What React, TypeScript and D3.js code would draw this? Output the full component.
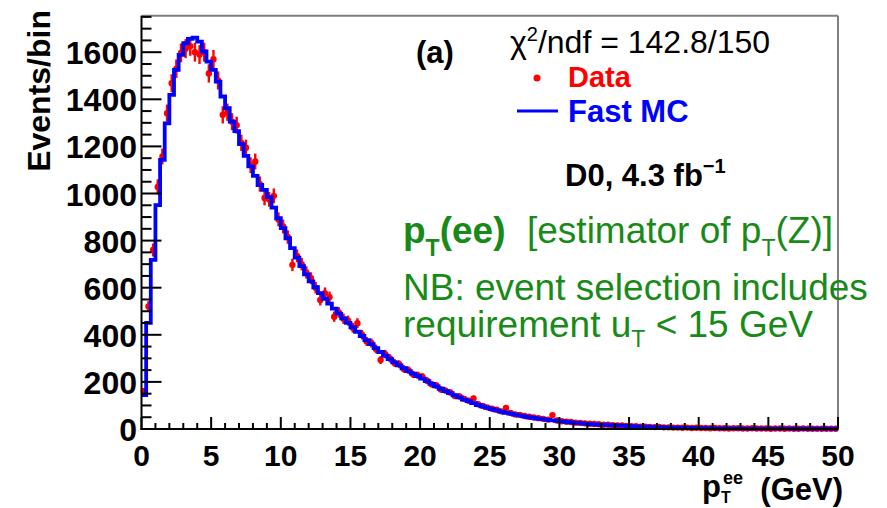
import React from "react";
import * as d3 from "d3";

// Fast MC prediction, 150 bins of 1/3 GeV from 0 to 50 GeV
const mcCounts = [
  144, 451, 718, 951, 1143, 1298, 1419, 1525, 1589, 1638,
  1657, 1662, 1645, 1603, 1560, 1525, 1475, 1412, 1362, 1305,
  1265, 1210, 1160, 1115, 1075, 1036, 1015, 985, 940, 895,
  853, 810, 768, 728, 692, 657, 627, 602, 577, 553,
  532, 511, 490, 470, 451, 432, 413, 395, 377, 360,
  343, 327, 311, 297, 283, 270, 258, 246, 235, 225,
  214, 203, 192, 181, 171, 161, 152, 143, 134, 125,
  118, 110, 102, 96, 90, 84, 79, 74, 69, 65,
  61, 57, 54, 50, 47, 44, 42, 39, 37, 35,
  32, 30, 28, 26, 25, 23, 21, 20, 19, 18,
  17, 16, 15, 14, 13, 12, 11, 10, 10, 9,
  8, 8, 7, 7, 6, 6, 5, 5, 5, 4,
  4, 4, 4, 3, 3, 3, 3, 3, 3, 2,
  2, 2, 2, 2, 2, 2, 2, 2, 2, 2,
  1, 1, 1, 1, 1, 1, 1, 1, 1, 1,
];

// D0 data, same binning
const dataCounts = [
  160, 520, 760, 1028, 1157, 1341, 1468, 1530, 1597, 1615,
  1625, 1600, 1590, 1600, 1510, 1570, 1480, 1334, 1345, 1305,
  1290, 1215, 1194, 1120, 1136, 1040, 981, 975, 990, 890,
  860, 815, 697, 735, 700, 665, 640, 600, 548, 577,
  560, 477, 495, 468, 460, 430, 449, 400, 372, 365,
  340, 293, 318, 300, 280, 275, 255, 250, 232, 228,
  222, 205, 190, 185, 168, 163, 155, 140, 138, 128,
  120, 130, 105, 98, 92, 86, 82, 75, 89, 68,
  62, 60, 55, 52, 49, 46, 43, 40, 59, 36,
  33, 31, 30, 27, 26, 24, 22, 21, 20, 18,
  18, 16, 15, 15, 13, 12, 12, 10, 10, 9,
  8, 9, 7, 7, 6, 6, 5, 6, 4, 5,
  4, 4, 3, 4, 3, 3, 2, 3, 3, 2,
  2, 3, 2, 2, 2, 1, 2, 2, 1, 2,
  1, 1, 2, 1, 1, 1, 1, 1, 1, 1,
];

const yTickValues = [0, 200, 400, 600, 800, 1000, 1200, 1400, 1600];
const xTickValues = [0, 5, 10, 15, 20, 25, 30, 35, 40, 45, 50];

const W = 887;
const H = 508;
const FONT = "'Liberation Sans', Arial, Helvetica, sans-serif";
const GREEN = "#188a18";

function drawChart(svgRef: React.RefObject<SVGSVGElement | null>) {
  const svg = d3.select(svgRef.current);
  svg.selectAll("*").remove();
  svg.attr("width", W).attr("height", H);

  const x = d3.scaleLinear().domain([0, 50]).range([141.5, 838]);
  const y = d3.scaleLinear().domain([0, 1755]).range([429, 15.7]);
  const binW = 50 / mcCounts.length;

  // frame
  svg.append("line")
    .attr("x1", x(0)).attr("x2", x(50)).attr("y1", y(1755)).attr("y2", y(1755))
    .attr("stroke", "#808080").attr("stroke-width", 2);
  svg.append("line")
    .attr("x1", x(50)).attr("x2", x(50)).attr("y1", y(1755)).attr("y2", y(0))
    .attr("stroke", "#808080").attr("stroke-width", 2);

  // data points with error bars
  const pts = svg.append("g");
  dataCounts.forEach((v, i) => {
    const cx = x((i + 0.5) * binW);
    const err = Math.sqrt(v);
    pts.append("line")
      .attr("x1", cx).attr("x2", cx)
      .attr("y1", y(v - err)).attr("y2", y(v + err))
      .attr("stroke", "#ff0000").attr("stroke-width", 2.4);
    pts.append("line")
      .attr("x1", x(i * binW)).attr("x2", x((i + 1) * binW))
      .attr("y1", y(v)).attr("y2", y(v))
      .attr("stroke", "#ff0000").attr("stroke-width", 2.4);
    pts.append("circle")
      .attr("cx", cx).attr("cy", y(v)).attr("r", 3.2)
      .attr("fill", "#ff0000");
  });

  // MC step histogram
  const stepPts: [number, number][] = mcCounts.map((v, i) => [i * binW, v] as [number, number]);
  stepPts.push([50, mcCounts[mcCounts.length - 1]]);
  const step = d3.line<[number, number]>()
    .curve(d3.curveStepAfter)
    .x(d => x(d[0]))
    .y(d => y(d[1]));
  svg.append("path")
    .datum(stepPts)
    .attr("fill", "none")
    .attr("stroke", "#0000ff")
    .attr("stroke-width", 3.8)
    .attr("d", step);

  // axes lines
  svg.append("line")
    .attr("x1", x(0)).attr("x2", x(0)).attr("y1", y(1755)).attr("y2", y(0) + 1)
    .attr("stroke", "#000").attr("stroke-width", 2);
  svg.append("line")
    .attr("x1", x(0) - 1).attr("x2", x(50)).attr("y1", y(0)).attr("y2", y(0))
    .attr("stroke", "#000").attr("stroke-width", 2);

  // y ticks
  d3.range(0, 1751, 50).forEach(v => {
    const major = v % 200 === 0;
    svg.append("line")
      .attr("x1", x(0)).attr("x2", x(0) + (major ? 20 : 10))
      .attr("y1", y(v)).attr("y2", y(v))
      .attr("stroke", "#000").attr("stroke-width", 2);
  });
  // x ticks
  d3.range(0, 51, 1).forEach(v => {
    const major = v % 5 === 0;
    svg.append("line")
      .attr("x1", x(v)).attr("x2", x(v))
      .attr("y1", y(0)).attr("y2", y(0) - (major ? 12 : 6))
      .attr("stroke", "#000").attr("stroke-width", 2);
  });

  // tick labels
  svg.append("g").selectAll("text").data(yTickValues).join("text")
    .attr("x", 137).attr("y", d => y(d) + 12)
    .attr("text-anchor", "end")
    .attr("font-family", FONT).attr("font-weight", "bold").attr("font-size", 32)
    .text(d => d);
  svg.append("g").selectAll("text").data(xTickValues).join("text")
    .attr("x", d => x(d)).attr("y", 466)
    .attr("text-anchor", "middle")
    .attr("font-family", FONT).attr("font-weight", "bold").attr("font-size", 30)
    .text(d => d);

  // axis titles
  svg.append("text")
    .attr("transform", "translate(50,10) rotate(-90)")
    .attr("text-anchor", "end")
    .attr("font-family", FONT).attr("font-weight", "bold").attr("font-size", 32)
    .text("Events/bin");

  const xt = svg.append("g").attr("font-family", FONT).attr("font-weight", "bold");
  xt.append("text").attr("x", 702).attr("y", 497).attr("font-size", 31).text("p");
  xt.append("text").attr("x", 723).attr("y", 484).attr("font-size", 18).text("ee");
  xt.append("text").attr("x", 721).attr("y", 503).attr("font-size", 16).text("T");
  xt.append("text").attr("x", 843).attr("y", 500).attr("font-size", 31)
    .attr("text-anchor", "end").text("(GeV)");

  // annotations
  const ann = svg.append("g").attr("font-family", FONT);
  ann.append("text").attr("x", 416).attr("y", 63)
    .attr("font-size", 31).attr("font-weight", "bold").text("(a)");

  const chi = ann.append("text").attr("x", 510).attr("y", 53).attr("font-size", 32);
  chi.append("tspan").text("χ");
  chi.append("tspan").attr("dy", -12).attr("font-size", 20).text("2");
  chi.append("tspan").attr("dy", 12).text("/ndf = 142.8/150");

  ann.append("circle").attr("cx", 537).attr("cy", 78).attr("r", 3.5).attr("fill", "#ff0000");
  ann.append("text").attr("x", 568).attr("y", 87)
    .attr("font-size", 29).attr("font-weight", "bold").attr("fill", "#ff0000").text("Data");
  ann.append("line").attr("x1", 517).attr("x2", 558).attr("y1", 111).attr("y2", 111)
    .attr("stroke", "#0000ff").attr("stroke-width", 3);
  ann.append("text").attr("x", 568).attr("y", 122)
    .attr("font-size", 31).attr("font-weight", "bold").attr("fill", "#0000ff").text("Fast MC");

  const lumi = ann.append("text").attr("x", 565).attr("y", 186)
    .attr("font-size", 31).attr("font-weight", "bold");
  lumi.append("tspan").text("D0, 4.3 fb");
  lumi.append("tspan").attr("dy", -13).attr("font-size", 20).text("\u22121");

  // green note
  const note = svg.append("g").attr("font-family", FONT).attr("fill", GREEN);
  const l1 = note.append("text").attr("x", 403).attr("y", 243).attr("font-size", 37);
  l1.append("tspan").attr("font-weight", "bold").text("p");
  l1.append("tspan").attr("font-weight", "bold").attr("font-size", 23).attr("dy", 13).text("T");
  l1.append("tspan").attr("font-weight", "bold").attr("dy", -13).text("(ee)");
  l1.append("tspan").attr("x", 527).text("[estimator of p");
  l1.append("tspan").attr("font-size", 23).attr("dy", 13).text("T");
  l1.append("tspan").attr("dy", -13).text("(Z)]");

  note.append("text").attr("x", 403).attr("y", 300).attr("font-size", 37)
    .text("NB: event selection includes");

  const l3 = note.append("text").attr("x", 403).attr("y", 337).attr("font-size", 37);
  l3.append("tspan").text("requirement u");
  l3.append("tspan").attr("font-size", 23).attr("dy", 10).text("T");
  l3.append("tspan").attr("dy", -10).text(" < 15 GeV");
}

const App = () => {
  const svg = React.useRef<SVGSVGElement>(null);

  React.useEffect(() => {
    drawChart(svg);
  }, []);

  return (
    <div style={{ position: "absolute", left: 0, top: 0, background: "#fff" }}>
      <svg ref={svg} style={{ display: "block" }} />
    </div>
  );
};

export default App;
